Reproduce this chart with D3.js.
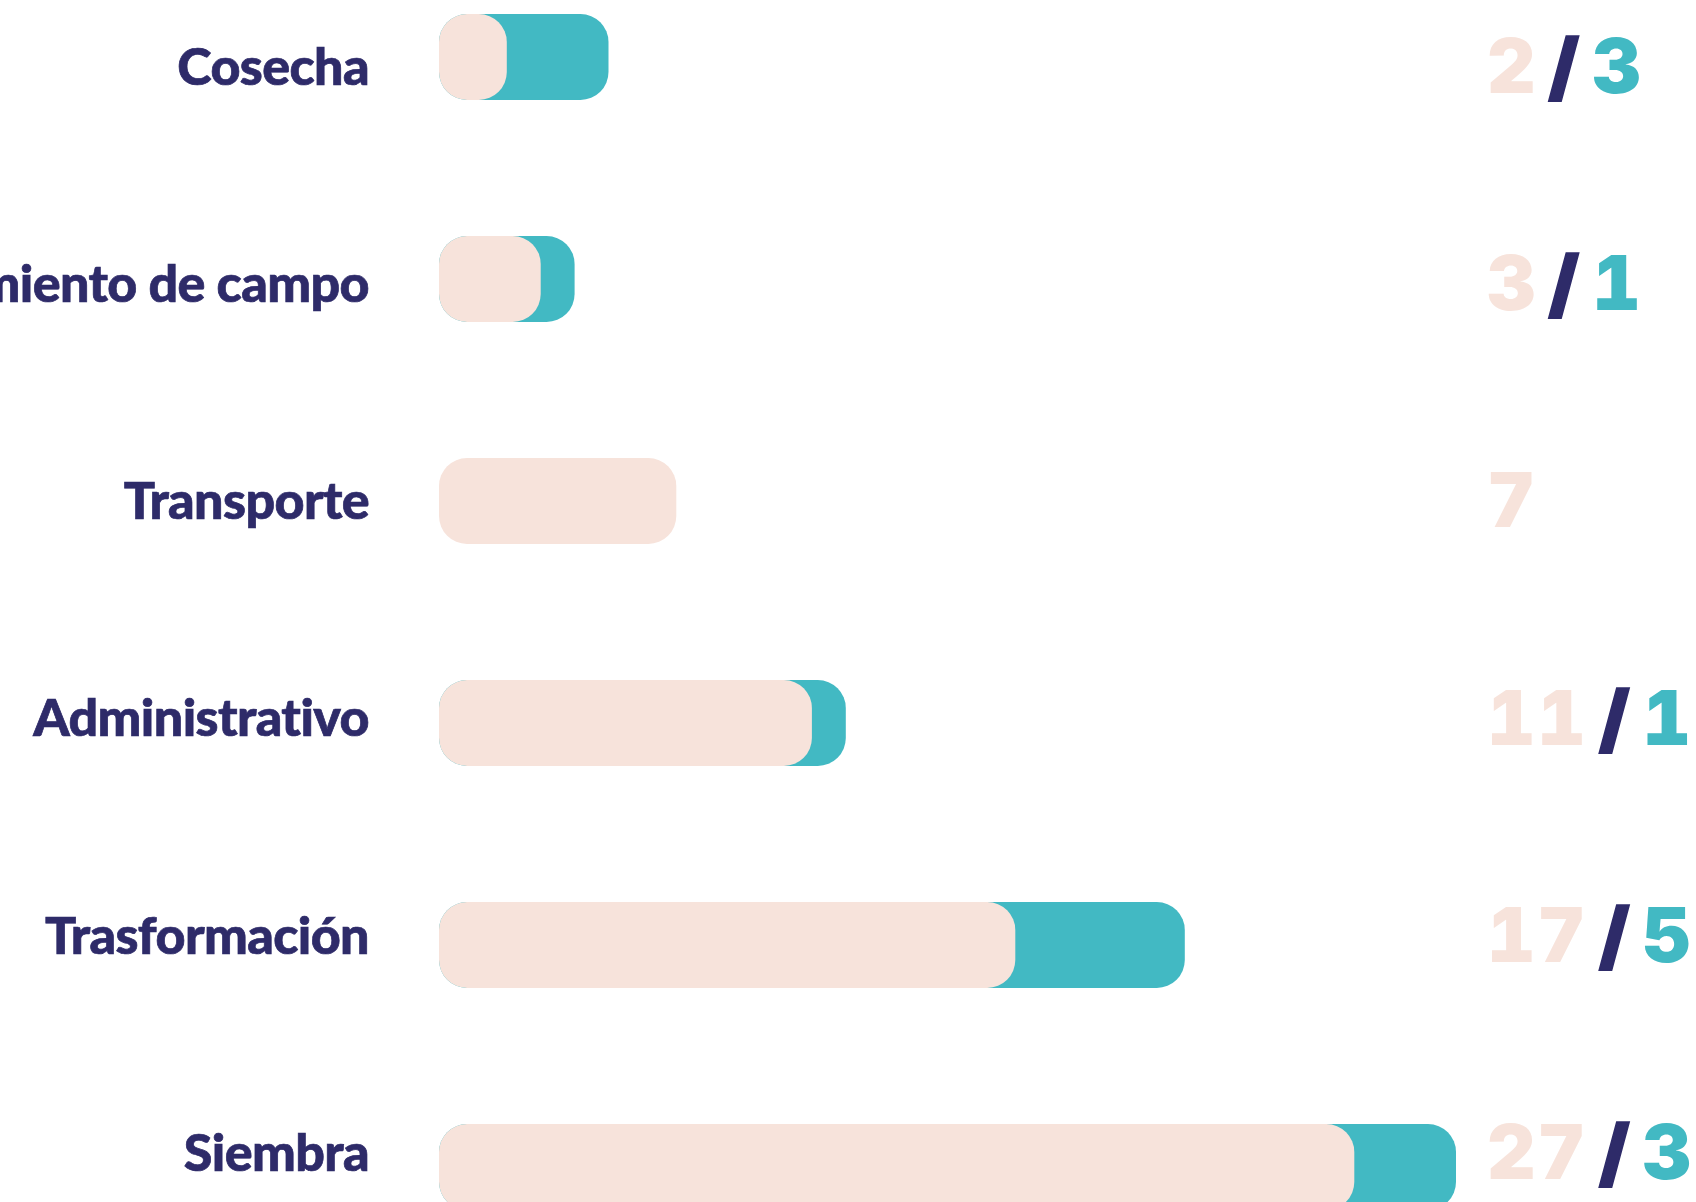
<!DOCTYPE html>
<html>
<head>
<meta charset="utf-8">
<script src="https://cdn.jsdelivr.net/npm/d3@7"></script>
<style>
  html, body { margin: 0; padding: 0; background: #ffffff; overflow: hidden; }
  svg { display: block; }
  .label { font-family: "Lato", "Noto Sans", sans-serif; font-weight: 900; fill: #2e2b69; stroke: #2e2b69; stroke-width: 0.7px; }
  .num { font-family: "Inter", "Roboto", sans-serif; font-weight: 900; font-variant-numeric: tabular-nums; font-feature-settings: "tnum" 1; }
  .slash { stroke: #2e2b69; stroke-width: 1.5px; }
</style>
</head>
<body>
<svg width="1696" height="1202"></svg>
<script>
var categories = ["Cosecha", "Mantenimiento de campo", "Transporte", "Administrativo", "Trasformación", "Siembra"];
var pinkValues = [2, 3, 7, 11, 17, 27];
var tealValues = [3, 1, 0, 1, 5, 3];

var width = 1696,
    height = 1202;

var pink = "#f7e3db",
    teal = "#42b9c3",
    navy = "#2e2b69";

var rows = categories.map(function (c, i) {
    return { name: c, pink: pinkValues[i], teal: tealValues[i] };
});

var svg = d3.select("svg");

var x = d3.scaleLinear()
    .domain([0, 30])
    .range([439, 1456]);

// bars: 86px tall, 222px apart
var y = d3.scaleBand()
    .domain(categories)
    .range([14, 1210])
    .paddingInner(0.6126)
    .paddingOuter(0);

// the texts (labels and numbers) drift a little from the bar rows
var yText = d3.scalePoint()
    .domain(categories)
    .range([66, 1152]);

var barRadius = 28;

var g = svg.selectAll("g.row")
    .data(rows)
    .enter().append("g")
    .attr("class", "row");

// teal = total, pink laid over it
g.filter(function (d) { return d.teal > 0; })
    .append("rect")
    .attr("x", x(0))
    .attr("y", function (d) { return y(d.name); })
    .attr("width", function (d) { return x(d.pink + d.teal) - x(0); })
    .attr("height", y.bandwidth())
    .attr("rx", barRadius)
    .attr("fill", teal);

g.append("rect")
    .attr("x", x(0))
    .attr("y", function (d) { return y(d.name); })
    .attr("width", function (d) { return x(d.pink) - x(0); })
    .attr("height", y.bandwidth())
    .attr("rx", barRadius)
    .attr("fill", pink);

g.append("text")
    .attr("class", "label")
    .attr("x", 369)
    .attr("y", function (d) { return yText(d.name); })
    .attr("dy", "0.36em")
    .attr("text-anchor", "end")
    .style("font-size", "52px")
    .style("letter-spacing", "-0.6px")
    .text(function (d) { return d.name; });

var nums = g.append("text")
    .attr("class", "num")
    .attr("x", 1487)
    .attr("y", function (d) { return yText(d.name) + 27; })
    .style("font-size", "75px")
    .style("letter-spacing", "2px");

nums.append("tspan")
    .attr("fill", pink)
    .text(function (d) { return d.pink; });

nums.filter(function (d) { return d.teal > 0; })
    .append("tspan")
    .attr("class", "slash")
    .attr("fill", navy)
    .attr("dx", 11)
    .text("/");

nums.filter(function (d) { return d.teal > 0; })
    .append("tspan")
    .attr("fill", teal)
    .attr("dx", 11)
    .text(function (d) { return d.teal; });
</script>
</body>
</html>
